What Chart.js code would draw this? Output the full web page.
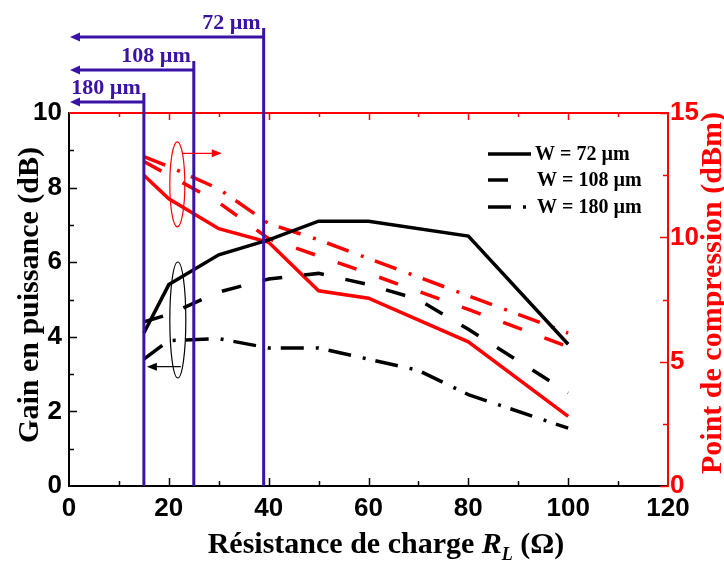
<!DOCTYPE html>
<html>
<head>
<meta charset="utf-8">
<script src="https://cdn.jsdelivr.net/npm/chart.js@4.4.1/dist/chart.umd.min.js"></script>
<style>
  body { margin: 0; background: #fff; }
  .chart-box { position: relative; width: 724px; height: 562px; }
</style>
</head>
<body>
<div class="chart-box"><canvas id="gainChart"></canvas></div>
<script>
// load resistance R_L (ohm)
const rLoad = [15, 20, 30, 40, 50, 60, 80, 100];
const rLoadFine = [15, 20, 30, 40, 50, 60, 70, 80, 100];

// power gain (dB), left axis
const gain72 = [4.1, 5.4, 6.2, 6.6, 7.1, 7.1, 6.7, 3.8];
const gain108 = [4.4, 4.6, 5.2, 5.55, 5.7, 5.4, 5.0, 4.2, 2.5];
const gain180 = [3.4, 3.9, 3.95, 3.7, 3.7, 3.4, 3.1, 2.45, 1.55];

// compression point (dBm), right axis
const comp72 = [12.5, 11.55, 10.35, 9.8, 7.85, 7.55, 5.8, 2.8];
const comp108 = [13.05, 12.5, 11.4, 9.95, 9.25, 8.55, 7.1, 5.6];
const comp180 = [13.25, 12.85, 11.95, 10.55, 9.9, 9.15, 7.65, 6.15];

const widthNames = ["W = 72 µm", "W = 108 µm", "W = 180 µm"];
const limitR = [15, 25, 39];
const limitNames = ["180 µm", "108 µm", "72 µm"];

const xTicks = [0, 20, 40, 60, 80, 100, 120];
const gainTicks = [0, 2, 4, 6, 8, 10];
const compTicks = [0, 5, 10, 15];

const blackDash = [[], [20, 22], [23, 12, 3, 10]];
const redDash = [[], [20, 24], [23, 13, 3, 12]];
const BLUE = "#3a12a6";
const RED = "#ff0000";
const SERIF = '"Liberation Serif", "Times New Roman", serif';

const pts = (xs, ys) => xs.map((x, i) => ({ x: x, y: ys[i] }));

function line(label, data, axis, color, dash) {
  return {
    label: label,
    data: data,
    yAxisID: axis,
    borderColor: color,
    borderWidth: 3.5,
    borderDash: dash,
    borderCapStyle: "butt",
    pointRadius: 0,
    tension: 0,
    fill: false
  };
}

const datasets = [
  line(widthNames[0], pts(rLoad, gain72), "y", "#000", blackDash[0]),
  line(widthNames[1], pts(rLoadFine, gain108), "y", "#000", blackDash[1]),
  line(widthNames[2], pts(rLoadFine, gain180), "y", "#000", blackDash[2]),
  line(widthNames[0], pts(rLoad, comp72), "y2", RED, redDash[0]),
  line(widthNames[1], pts(rLoad, comp108), "y2", RED, redDash[1]),
  line(widthNames[2], pts(rLoad, comp180), "y2", RED, redDash[2])
];

function arrowHead(ctx, x, y, dir, len, half) {
  ctx.beginPath();
  ctx.moveTo(x, y);
  ctx.lineTo(x - dir * len, y - half);
  ctx.lineTo(x - dir * len, y + half);
  ctx.closePath();
  ctx.fill();
}

const decorations = {
  id: "decorations",
  afterDatasetsDraw(chart) {
    const { ctx, chartArea: a, scales } = chart;
    const x = scales.x, y = scales.y, y2 = scales.y2;
    ctx.save();
    ctx.setLineDash([]);

    // top frame line (red) with ticks
    ctx.strokeStyle = RED;
    ctx.lineWidth = 2;
    ctx.beginPath();
    ctx.moveTo(a.left, a.top);
    ctx.lineTo(a.right, a.top);
    ctx.stroke();
    ctx.lineWidth = 1.5;
    for (let v = 10; v < 120; v += 10) {
      const px = Math.round(x.getPixelForValue(v)) + 0.5;
      const len = v % 20 === 0 ? 7 : 4;
      ctx.beginPath();
      ctx.moveTo(px, a.top);
      ctx.lineTo(px, a.top + len);
      ctx.stroke();
    }
    // right axis ticks (inward)
    for (let v = 0; v <= 15; v += 2.5) {
      const py = Math.round(y2.getPixelForValue(v)) + 0.5;
      const len = v % 5 === 0 ? 8 : 5;
      ctx.beginPath();
      ctx.moveTo(a.right, py);
      ctx.lineTo(a.right - len, py);
      ctx.stroke();
    }
    // left and bottom ticks (black, inward)
    ctx.strokeStyle = "#000";
    for (let v = 1; v < 10; v++) {
      const py = Math.round(y.getPixelForValue(v)) + 0.5;
      const len = v % 2 === 0 ? 8 : 5;
      ctx.beginPath();
      ctx.moveTo(a.left, py);
      ctx.lineTo(a.left + len, py);
      ctx.stroke();
    }
    for (let v = 10; v < 120; v += 10) {
      const px = Math.round(x.getPixelForValue(v)) + 0.5;
      const len = v % 20 === 0 ? 8 : 5;
      ctx.beginPath();
      ctx.moveTo(px, a.bottom);
      ctx.lineTo(px, a.bottom - len);
      ctx.stroke();
    }

    // blue limit lines with arrows pointing to the gain axis
    const tops = [93, 61, 28];
    ctx.strokeStyle = BLUE;
    ctx.fillStyle = BLUE;
    ctx.font = "bold 22px " + SERIF;
    ctx.textAlign = "right";
    ctx.textBaseline = "alphabetic";
    limitR.forEach((r, i) => {
      const px = x.getPixelForValue(r);
      const top = tops[i];
      const ay = top + 9;
      ctx.lineWidth = 3;
      ctx.beginPath();
      ctx.moveTo(px, a.bottom);
      ctx.lineTo(px, top);
      ctx.stroke();
      ctx.beginPath();
      ctx.moveTo(px, ay);
      ctx.lineTo(a.left + 8, ay);
      ctx.stroke();
      arrowHead(ctx, a.left + 1, ay, -1, 10, 4.5);
      ctx.fillText(limitNames[i], px - 3, top + 1);
    });

    // ellipses marking which axis each group belongs to
    ctx.lineWidth = 1.2;
    ctx.strokeStyle = RED;
    ctx.fillStyle = RED;
    const rx = x.getPixelForValue(21.7);
    ctx.beginPath();
    ctx.ellipse(rx, y2.getPixelForValue(12.13), 7.5, 42.5, 0, 0, Math.PI * 2);
    ctx.stroke();
    const ra = y2.getPixelForValue(13.38);
    ctx.beginPath();
    ctx.moveTo(rx + 5, ra);
    ctx.lineTo(x.getPixelForValue(30), ra);
    ctx.stroke();
    arrowHead(ctx, x.getPixelForValue(30.6), ra, 1, 10, 4);

    ctx.strokeStyle = "#000";
    ctx.fillStyle = "#000";
    const bx = x.getPixelForValue(21.8);
    ctx.beginPath();
    ctx.ellipse(bx, y.getPixelForValue(4.45), 8, 58, 0, 0, Math.PI * 2);
    ctx.stroke();
    const ba = y.getPixelForValue(3.2);
    ctx.beginPath();
    ctx.moveTo(bx + 3, ba);
    ctx.lineTo(x.getPixelForValue(16.5), ba);
    ctx.stroke();
    arrowHead(ctx, x.getPixelForValue(15.6), ba, -1, 10, 4);

    // legend
    const legY = [154, 180, 207];
    ctx.font = "bold 20px " + SERIF;
    ctx.textAlign = "left";
    ctx.textBaseline = "middle";
    widthNames.forEach((name, i) => {
      ctx.strokeStyle = "#000";
      ctx.lineWidth = 3.5;
      ctx.lineCap = "butt";
      ctx.setLineDash(blackDash[i]);
      ctx.beginPath();
      ctx.moveTo(488, legY[i]);
      ctx.lineTo(i === 1 ? 510 : 531, legY[i]);
      ctx.stroke();
      ctx.setLineDash([]);
      ctx.fillStyle = "#000";
      ctx.fillText(name, i === 0 ? 535 : 537, legY[i] + 1);
    });

    // axis titles
    ctx.font = "bold 30px " + SERIF;
    ctx.textAlign = "center";
    ctx.textBaseline = "middle";
    ctx.fillStyle = "#000";
    ctx.save();
    ctx.translate(30, 295);
    ctx.rotate(-Math.PI / 2);
    ctx.fillText("Gain en puissance (dB)", 0, 0);
    ctx.restore();

    ctx.fillStyle = RED;
    ctx.save();
    ctx.translate(713, 293);
    ctx.rotate(-Math.PI / 2);
    ctx.fillText("Point de compression (dBm)", 0, 0);
    ctx.restore();

    // x title with italic R and subscript L
    ctx.fillStyle = "#000";
    ctx.textBaseline = "alphabetic";
    ctx.textAlign = "left";
    const partA = "Résistance de charge ";
    const partB = " (Ω)";
    const fMain = "bold 30px " + SERIF;
    const fItal = "italic bold 30px " + SERIF;
    const fSub = "italic bold 18px " + SERIF;
    ctx.font = fMain;
    const wA = ctx.measureText(partA).width;
    const wB = ctx.measureText(partB).width;
    ctx.font = fItal;
    const wR = ctx.measureText("R").width;
    ctx.font = fSub;
    const wL = ctx.measureText("L").width;
    let tx = 386 - (wA + wR + wL + wB) / 2;
    const base = 553;
    ctx.font = fMain;
    ctx.fillText(partA, tx, base);
    tx += wA;
    ctx.font = fItal;
    ctx.fillText("R", tx, base);
    tx += wR;
    ctx.font = fSub;
    ctx.fillText("L", tx, base + 7);
    tx += wL;
    ctx.font = fMain;
    ctx.fillText(partB, tx, base);

    ctx.restore();
  }
};

Chart.defaults.font.family = '"Liberation Sans", Arial, sans-serif';

const ctx = document.getElementById("gainChart");

const gainChart = new Chart(ctx, {
  type: "line",
  data: { datasets: datasets },
  options: {
    responsive: true,
    maintainAspectRatio: false,
    animation: false,
    layout: { padding: { top: 113, left: 0, right: 0, bottom: 0 } },
    scales: {
      x: {
        type: "linear",
        min: 0,
        max: 120,
        afterBuildTicks: s => { s.ticks = xTicks.map(v => ({ value: v })); },
        afterFit: s => { s.height = 76; },
        grid: { display: false, drawTicks: false },
        border: { display: true, color: "#000", width: 2 },
        ticks: { color: "#000", padding: 7, maxRotation: 0, font: { size: 26, weight: "bold" } }
      },
      y: {
        position: "left",
        min: 0,
        max: 10,
        afterBuildTicks: s => { s.ticks = gainTicks.map(v => ({ value: v })); },
        afterFit: s => { s.width = 69; },
        grid: { display: false, drawTicks: false },
        border: { display: true, color: "#000", width: 2 },
        ticks: { color: "#000", padding: 7, font: { size: 26, weight: "bold" } }
      },
      y2: {
        position: "right",
        min: 0,
        max: 15,
        afterBuildTicks: s => { s.ticks = compTicks.map(v => ({ value: v })); },
        afterFit: s => { s.width = 56; },
        grid: { display: false, drawTicks: false },
        border: { display: true, color: RED, width: 2 },
        ticks: { color: RED, padding: 2, font: { size: 26, weight: "bold" } }
      }
    },
    plugins: {
      legend: { display: false },
      tooltip: { enabled: false }
    }
  },
  plugins: [decorations]
});
</script>
</body>
</html>
